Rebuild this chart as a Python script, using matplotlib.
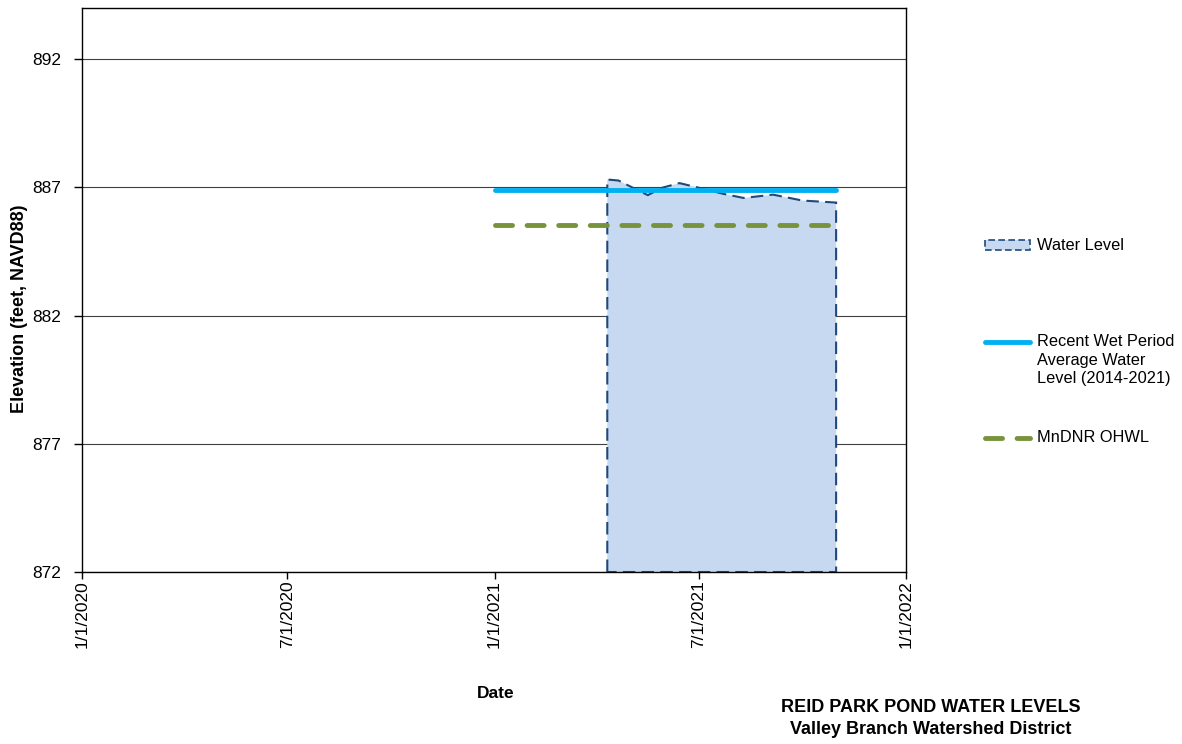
import numpy as np
import matplotlib
matplotlib.use('Agg')
import matplotlib.pyplot as plt
import matplotlib.dates as md
from matplotlib.lines import Line2D
from matplotlib.patches import Rectangle
from datetime import datetime

plt.rcParams['font.family'] = ['Liberation Sans', 'DejaVu Sans']

# water level readings (feet, NAVD88)
wl_dates = ['2021-04-11', '2021-04-21', '2021-05-04', '2021-05-17', '2021-05-29',
            '2021-06-14', '2021-07-02', '2021-07-23', '2021-08-10', '2021-09-05',
            '2021-10-01', '2021-10-31']
wl_elev = [887.31, 887.27, 886.98, 886.70, 886.98, 887.17, 886.98, 886.75,
           886.59, 886.72, 886.49, 886.41]

ref_dates = ['2021-01-01', '2021-10-31']
wet_avg = [886.9, 886.9]
ohwl = [885.55, 885.55]

yticks = [872, 877, 882, 887, 892]
xtick_dates = ['2020-01-01', '2020-07-01', '2021-01-01', '2021-07-01', '2022-01-01']
xtick_labels = ['1/1/2020', '7/1/2020', '1/1/2021', '7/1/2021', '1/1/2022']

ymin, ymax = 872, 894

def d(s):
    return md.date2num(datetime.strptime(s, '%Y-%m-%d'))

t = [d(s) for s in wl_dates]
tr = [d(s) for s in ref_dates]

fig = plt.figure(figsize=(11.82, 7.44), dpi=100)
ax = fig.add_axes([82/1182, 1-572/744, (906-82)/1182, (572-8)/744])

fill_c = '#c6d9f1'
edge_c = '#1f497d'
cyan = '#00b0f0'
green = '#77933c'

# area down to the axis floor, dashed outline
px = [t[0]] + t + [t[-1]]
py = [ymin] + wl_elev + [ymin]
ax.fill(px, py, facecolor=fill_c, edgecolor=edge_c, linewidth=1.5,
        linestyle=(0, (6, 3)), zorder=3)

ax.plot(tr, wet_avg, color=cyan, linewidth=3.5, zorder=4, solid_capstyle='round')
ax.plot(tr, ohwl, color=green, linewidth=3.5, linestyle=(0, (3.5, 3)),
        dash_capstyle='round', zorder=4)

ax.set_ylim(ymin, ymax)
ax.set_xlim(d('2020-01-01'), d('2022-01-01'))
ax.set_yticks(yticks)
ax.set_yticklabels([str(v) for v in yticks], fontsize=12.5)
ax.set_xticks([d(s) for s in xtick_dates])
ax.set_xticklabels(xtick_labels, rotation=90, fontsize=12.5)
ax.tick_params(axis='y', direction='out', length=6, width=1, color='black', pad=9)
ax.tick_params(axis='x', direction='out', length=5, width=1, color='black', pad=1)
ax.grid(axis='y', color='#404040', linewidth=0.8, zorder=1)
ax.set_axisbelow(True)
for s in ax.spines.values():
    s.set_color('black')
    s.set_linewidth(1)
    s.set_zorder(5)

ax.set_ylabel('Elevation (feet, NAVD88)', fontsize=13, fontweight='bold')
ax.yaxis.set_label_coords(-0.066, 0.466)
fig.text(496/1182, 1-694/744, 'Date', ha='center', va='center', fontsize=12.5, fontweight='bold')
fig.text(931/1182, 1-707/744, 'REID PARK POND WATER LEVELS', ha='center', va='center',
         fontsize=13, fontweight='bold')
fig.text(931/1182, 1-729/744, 'Valley Branch Watershed District', ha='center', va='center',
         fontsize=13, fontweight='bold')

# legend drawn by hand so the handles line up with the first text line
W, H = 1182, 744
fig.add_artist(Rectangle((985/W, 1-250/H), 45/W, 10/H, transform=fig.transFigure,
                         facecolor=fill_c, edgecolor=edge_c, linewidth=1.2,
                         linestyle=(0, (4, 2))))
fig.text(1037/W, 1-245/H, 'Water Level', va='center', fontsize=11.8)
fig.add_artist(Line2D([985/W, 1030/W], [1-342/H, 1-342/H], transform=fig.transFigure,
                      color=cyan, linewidth=3.5, solid_capstyle='round'))
fig.text(1037/W, 1-334/H, 'Recent Wet Period\nAverage Water\nLevel (2014-2021)',
         va='top', fontsize=11.8, linespacing=1.3)
fig.add_artist(Line2D([985/W, 1030/W], [1-438/H, 1-438/H], transform=fig.transFigure,
                      color=green, linewidth=3.5, linestyle=(0, (3.5, 3)),
                      dash_capstyle='round'))
fig.text(1037/W, 1-438/H, 'MnDNR OHWL', va='center', fontsize=11.8)

fig.savefig('out.png', dpi=100)
